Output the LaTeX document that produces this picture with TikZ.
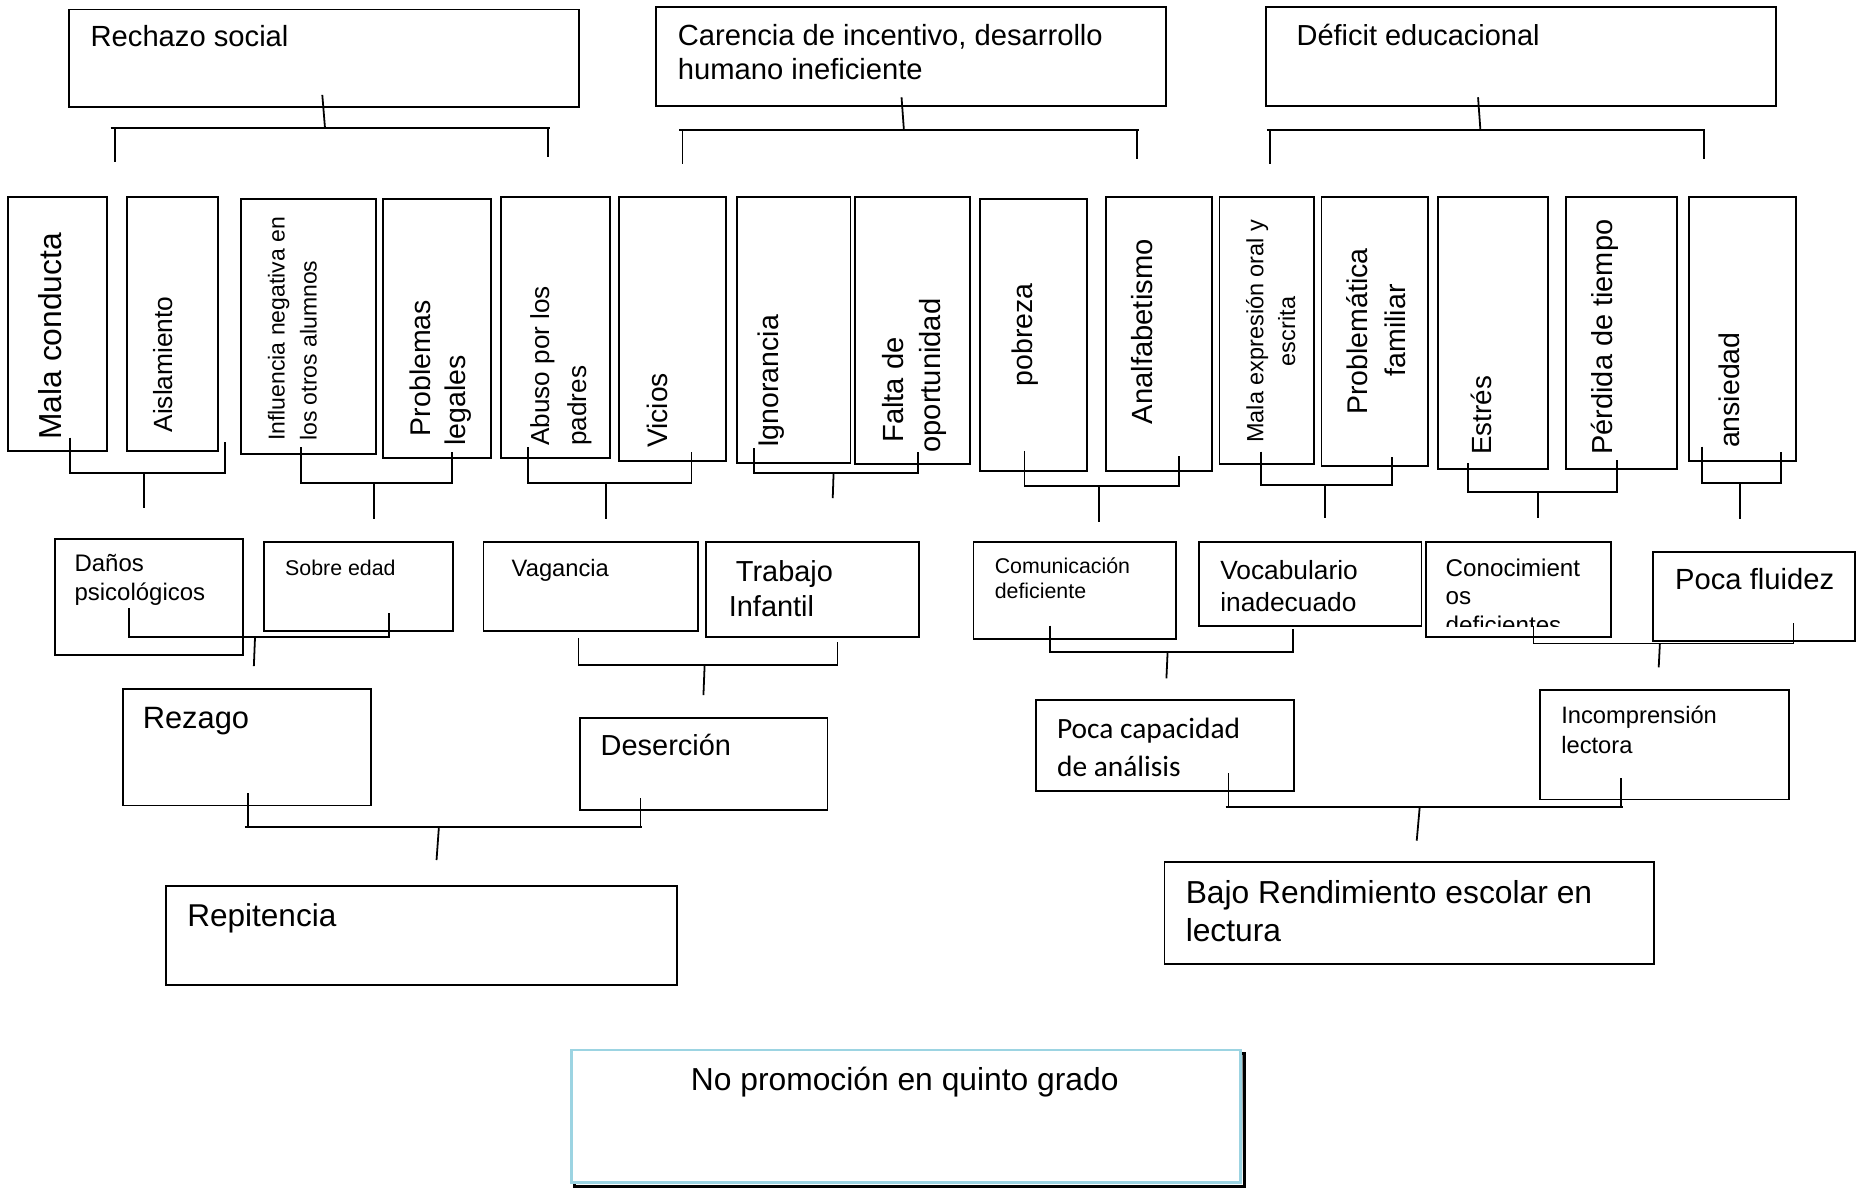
\documentclass[tikz,border=0pt]{standalone}
\usepackage{fontspec}
\setmainfont{Liberation Sans}
\newfontfamily\calibrifont{Carlito}
\usetikzlibrary{fit}
\newcommand\mysz[1]{\fontsize{#1}{#1}\selectfont}
\definecolor{lblue}{HTML}{9CD4E2}
\definecolor{shade}{HTML}{8EA6B2}
\begin{document}
\begin{tikzpicture}[x=0.5pt,y=-0.5pt,
  box/.style={draw, line width=0.8pt, inner sep=0pt},
  txt/.style={inner sep=0pt, anchor=base west},
  rtxt/.style={txt, rotate=90},
  conn/.style={line width=0.75pt}]
\fill[white] (0,0) rectangle (1568,1001);
\useasboundingbox (0,0) rectangle (1568,1001);

% ---------- top boxes ----------
\node[box, fit={(58,8) (488,90)}] (rs) {};
\node[txt, font=\mysz{12.3}] (trs) at (76,39.5) {Rechazo social};
\node[box, fit={(553,6) (983,89)}] (ci) {};
\node[txt, font=\mysz{12.3}] (tci1) at (571,38) {Carencia de incentivo, desarrollo};
\node[txt, font=\mysz{12.3}] (tci2) at (571,67.4) {humano ineficiente};
\node[box, fit={(1067,6) (1497,89)}] (de) {};
\node[txt, font=\mysz{12.2}] (tde) at (1092.7,38) {Déficit educacional};

% ---------- top brackets ----------
\coordinate (rsA) at (271.7,80);
\draw[conn] (rsA) -- (274,108.2);
\draw[conn] (93.3,108.2) -- (463.4,108.2);
\draw[conn] (96.7,108.2) -- (96.7,136.8);
\draw[conn] (462,108.2) -- (462,132);
\coordinate (ciA) at (760,82);
\draw[conn] (ciA) -- (762,109.6);
\draw[conn] (572.7,109.6) -- (960.4,109.6);
\draw[conn] (575.3,109.6) -- (575.3,138.3);
\draw[conn] (958.8,109.6) -- (958.8,134.3);
\coordinate (deA) at (1246,82);
\draw[conn] (deA) -- (1248,109.6);
\draw[conn] (1067.9,109.6) -- (1437.7,109.6);
\draw[conn] (1070.4,109.6) -- (1070.4,138.3);
\draw[conn] (1436.6,109.6) -- (1436.6,134.3);

% ---------- vertical boxes ----------
\node[box, fit={(7,166) (90,380)}] (b1) {};
\node[rtxt, font=\mysz{13.4}] (tb1) at (51.7,371) {Mala conducta};
\node[box, fit={(107,166) (184,380)}] (b2) {};
\node[rtxt, font=\mysz{11.1}] (tb2) at (145,365) {Aislamiento};
\node[box, fit={(203,168) (317,383)}] (b3) {};
\node[rtxt, font=\mysz{9.7}] (tb3a) at (240,372) {Influencia negativa en};
\node[rtxt, font=\mysz{9.7}] (tb3b) at (267,372) {los otros alumnos};
\node[box, fit={(323,168) (414,386)}] (b4) {};
\node[rtxt, font=\mysz{12}] (tb4a) at (363,368) {Problemas};
\node[rtxt, font=\mysz{12}] (tb4b) at (392,376) {legales};
\node[box, fit={(422,166) (514,386)}] (b5) {};
\node[rtxt, font=\mysz{11}] (tb5a) at (463,376) {Abuso por los};
\node[rtxt, font=\mysz{11}] (tb5b) at (494,376) {padres};
\node[box, fit={(522,166) (612,389)}] (b6) {};
\node[rtxt, font=\mysz{11.9}] (tb6) at (562.7,378) {Vicios};
\node[box, fit={(621,166) (717,390)}] (b7) {};
\node[rtxt, font=\mysz{12}] (tb7) at (656,378) {Ignorancia};
\node[box, fit={(721,166) (818,391)}] (b8) {};
\node[rtxt, font=\mysz{12.3}] (tb8a) at (762,373.7) {Falta de};
\node[rtxt, font=\mysz{12.3}] (tb8b) at (793,382) {oportunidad};
\node[box, fit={(826,168) (916,397)}] (b9) {};
\node[rtxt, font=\mysz{12}] (tb9) at (870,326) {pobreza};
\node[box, fit={(932,166) (1022,397)}] (b10) {};
\node[rtxt, font=\mysz{12.3}] (tb10) at (971.6,358) {Analfabetismo};
\node[box, fit={(1028,166) (1108,391)}] (b11) {};
\node[rtxt, font=\mysz{9.9}] (tb11a) at (1065,373.7) {Mala expresión oral y};
\node[rtxt, font=\mysz{9.9}] (tb11b) at (1091.7,309) {escrita};
\node[box, fit={(1114,166) (1204,393)}] (b12) {};
\node[rtxt, font=\mysz{12}] (tb12a) at (1153,350) {Problemática};
\node[rtxt, font=\mysz{12}] (tb12b) at (1185,317.5) {familiar};
\node[box, fit={(1212,166) (1305,395)}] (b13) {};
\node[rtxt, font=\mysz{11.7}] (tb13) at (1257,383.6) {Estrés};
\node[box, fit={(1320,166) (1414,395)}] (b14) {};
\node[rtxt, font=\mysz{12.2}] (tb14) at (1359.5,383.6) {Pérdida de tiempo};
\node[box, fit={(1424,166) (1514,389)}] (b15) {};
\node[rtxt, font=\mysz{12}] (tb15) at (1466,378) {ansiedad};

% ---------- brackets under vertical boxes ----------
\draw[conn] (59.3,369) -- (59.3,398.5) -- (190,398.5) -- (190,373);
\draw[conn] (121.7,398.5) -- (121.7,428.6);
\draw[conn] (254,377) -- (254,407) -- (381,407) -- (381,381);
\draw[conn] (315,407) -- (315,437.6);
\draw[conn] (445,377) -- (445,407) -- (583,407) -- (583,381);
\draw[conn] (511,407) -- (511,437.6);
\draw[conn] (635.4,378) -- (635.4,399) -- (773.7,399) -- (773.7,381);
\draw[conn] (702.7,399) -- (702,420);
\draw[conn] (863.6,380) -- (863.6,410) -- (993.6,410) -- (993.6,384.4);
\draw[conn] (926.7,410) -- (926.7,440.4);
\draw[conn] (1063,380.8) -- (1063,408.6) -- (1173.3,408.6) -- (1173.3,385.5);
\draw[conn] (1116.8,408.6) -- (1116.8,437);
\draw[conn] (1237.2,390.6) -- (1237.2,414.5) -- (1363,414.5) -- (1363,387.8);
\draw[conn] (1296.8,414.5) -- (1296.8,437);
\draw[conn] (1435,376.6) -- (1435,407) -- (1501.6,407) -- (1501.6,380.8);
\draw[conn] (1466.8,407) -- (1466.8,437.6);

% ---------- second row ----------
\node[box, fit={(46,454) (205,552)}] (da) {};
\node[txt, font=\mysz{10.1}] (tda1) at (62.5,482) {Daños};
\node[txt, font=\mysz{10.1}] (tda2) at (62.5,506) {psicológicos};
\node[box, fit={(222.5,457) (381.6,532)}] (so) {};
\node[txt, font=\mysz{9}] (tso) at (240,484.8) {Sobre edad};
\node[box, fit={(407.6,457) (588.6,532)}] (va) {};
\node[txt, font=\mysz{10}] (tva) at (431,486.2) {Vagancia};
\node[box, fit={(595,457) (775,537)}] (tr) {};
\node[txt, font=\mysz{12.2}] (ttr1) at (620,490.4) {Trabajo};
\node[txt, font=\mysz{12.2}] (ttr2) at (614,519.9) {Infantil};
\node[box, fit={(820.7,457) (991.7,539)}] (co) {};
\node[txt, font=\mysz{9}] (tco1) at (838.2,483.4) {Comunicación};
\node[txt, font=\mysz{9}] (tco2) at (838.2,504.5) {deficiente};
\node[box, fit={(1010.8,457) (1198.3,528)}] (vo) {};
\node[txt, font=\mysz{11.1}] (tvo1) at (1028.3,488.2) {Vocabulario};
\node[txt, font=\mysz{11.1}] (tvo2) at (1028.3,515.7) {inadecuado};
\node[box, fit={(1201.8,457) (1358.3,537)}] (cn) {};
\node[txt, font=\mysz{10.2}] (tcn1) at (1218.3,486.2) {Conocimient};
\node[txt, font=\mysz{10.2}] (tcn2) at (1218.3,510) {os};
\begin{scope}
\clip (1202,457) rectangle (1358,528);
\node[txt, font=\mysz{10.2}] (tcn3) at (1218.3,534) {deficientes};
\end{scope}
\node[box, fit={(1393.3,465) (1563.4,540)}] (pf) {};
\node[txt, font=\mysz{12.3}] (tpf) at (1411.8,496.9) {Poca fluidez};

% ---------- second row brackets ----------
\draw[conn] (109,512.9) -- (109,536.8) -- (327.6,536.8) -- (327.6,517);
\draw[conn] (215,536.8) -- (214,561.5);
\draw[conn] (487.6,538) -- (487.6,560.7) -- (706.1,560.7) -- (706.1,541);
\draw[conn] (594,560.7) -- (593,586);
\draw[conn] (885.2,527.5) -- (885.2,549.4) -- (1090.3,549.4) -- (1090.3,530.6);
\draw[conn] (984.3,549.4) -- (983.3,571.9);
\draw[conn] (1292.8,527.5) -- (1292.8,542.4) -- (1511.9,542.4) -- (1511.9,525.5);
\draw[conn] (1399.3,542.4) -- (1398.3,562.6);

% ---------- third row ----------
\node[box, fit={(103.5,581) (312.6,679)}] (rz) {};
\node[txt, font=\mysz{13}] (trz) at (120,614) {Rezago};
\node[box, fit={(488.6,605) (697.6,683)}] (ds) {};
\node[txt, font=\mysz{12.2}] (tds) at (506,636.5) {Deserción};
\node[box, fit={(873.2,590) (1090.8,667)}] (pc) {};
\node[txt, font=\calibrifont\mysz{12.4}] (tpc1) at (890.7,622.5) {Poca capacidad};
\node[txt, font=\calibrifont\mysz{12.4}] (tpc2) at (890.7,654.2) {de análisis};
\node[box, fit={(1298.3,582) (1507.8,674)}] (ic) {};
\node[txt, font=\mysz{10}] (tic1) at (1315.8,609.8) {Incomprensión};
\node[txt, font=\mysz{10}] (tic2) at (1315.8,635.1) {lectora};

\draw[conn] (209,668.8) -- (209,697);
\draw[conn] (206.5,697) -- (541,697);
\draw[conn] (540,673) -- (540,697);
\draw[conn] (370,697) -- (368,725);
\draw[conn] (1035.7,652) -- (1035.7,680.6);
\draw[conn] (1033.2,680.6) -- (1367.8,680.6);
\draw[conn] (1366.8,656.2) -- (1366.8,680.6);
\draw[conn] (1196.8,680.6) -- (1194.3,708.7);

% ---------- fourth row ----------
\node[box, fit={(140,747) (571,830)}] (rp) {};
\node[txt, font=\mysz{13.3}] (trp) at (157.5,781.3) {Repitencia};
\node[box, fit={(981.7,727) (1394.3,813)}] (bj) {};
\node[txt, font=\mysz{13.4}] (tbj1) at (999.2,761.6) {Bajo Rendimiento escolar en};
\node[txt, font=\mysz{13.4}] (tbj2) at (999.2,793.9) {lectura};

% ---------- final box ----------
\draw[shade, line width=1.3pt] (484.6,888) rectangle (1048.8,1000);
\node[draw=lblue, fill=white, line width=1.1pt, inner sep=0pt, fit={(481.6,885) (1045.8,997)}] (np) {};
\node[inner sep=0pt, anchor=base, font=\mysz{13.4}] (tnp) at (762.7,919) {No promoción en quinto grado};
\end{tikzpicture}
\end{document}
